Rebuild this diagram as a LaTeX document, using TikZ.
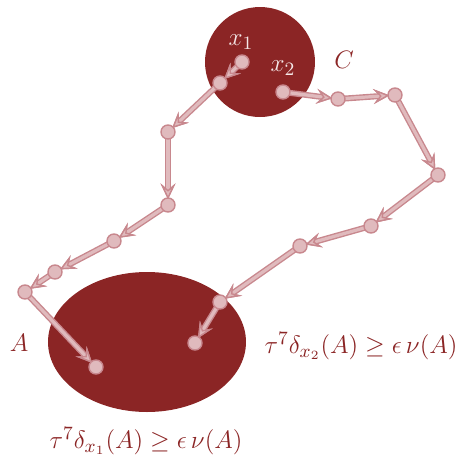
\documentclass[tikz,border=0pt]{standalone}
\usetikzlibrary{arrows.meta}
\definecolor{darkred}{RGB}{139,37,37}
\definecolor{pinklight}{RGB}{224,186,189}
\definecolor{pinkdark}{RGB}{200,136,142}
\definecolor{labwhite}{RGB}{245,232,232}
\tikzset{
  tipstyle/.style={-{Stealth[length=8pt,width=7.5pt,inset=3.2pt,line width=0.7pt,fill=pinklight,color=pinkdark]}, shorten >=2.8pt},
  outerarrow/.style={tipstyle, draw=pinkdark, line width=3pt},
  innerarrow/.style={tipstyle, draw=pinklight, line width=1.6pt},
  dot/.style={circle, fill=pinklight, draw=pinkdark, line width=0.7pt, minimum size=7pt, inner sep=0pt},
  lab/.style={text=darkred, font=\fontsize{12.8}{15}\selectfont, scale=1.05},
}
\newcommand{\walk}[2]{\draw[outerarrow] (#1) -- (#2); \draw[innerarrow] (#1) -- (#2);}
\begin{document}
\begin{tikzpicture}[x=0.5pt,y=-0.5pt]
\useasboundingbox (0,0) rectangle (457,462);
\fill[darkred] (260,62) circle[radius=55];
\fill[darkred] (147,342) ellipse[x radius=99, y radius=70];
% points
\coordinate (x1) at (242,62);
\coordinate (p1) at (220,83);
\coordinate (p2) at (168,132);
\coordinate (p3) at (168,205);
\coordinate (p4) at (114,241);
\coordinate (p5) at (55,272);
\coordinate (p6) at (25,292);
\coordinate (a1) at (96,367);
\coordinate (x2) at (283,92);
\coordinate (q1) at (338,99);
\coordinate (q2) at (395,95);
\coordinate (q3) at (438,175);
\coordinate (q4) at (371,226);
\coordinate (q5) at (300,246);
\coordinate (q6) at (220,302);
\coordinate (a2) at (195,343);
% arrows
\walk{x1}{p1}\walk{p1}{p2}\walk{p2}{p3}\walk{p3}{p4}\walk{p4}{p5}\walk{p5}{p6}\walk{p6}{a1}
\walk{x2}{q1}\walk{q1}{q2}\walk{q2}{q3}\walk{q3}{q4}\walk{q4}{q5}\walk{q5}{q6}\walk{q6}{a2}
% dots
\foreach \p in {x1,p1,p2,p3,p4,p5,p6,a1,x2,q1,q2,q3,q4,q5,q6,a2}
  \node[dot] (d\p) at (\p) {};
% labels
\node[lab, text=labwhite] (lx1) at (241,42) {$x_1$};
\node[lab, text=labwhite] (lx2) at (283,68) {$x_2$};
\node[lab] (lC) at (344,60) {$C$};
\node[lab] (lA) at (19,343) {$A$};
\node[lab] (lt1) at (146,441) {$\tau^7\delta_{x_1}(A)\geq\epsilon\,\nu(A)$};
\node[lab] (lt2) at (361,346) {$\tau^7\delta_{x_2}(A)\geq\epsilon\,\nu(A)$};
\end{tikzpicture}
\end{document}
